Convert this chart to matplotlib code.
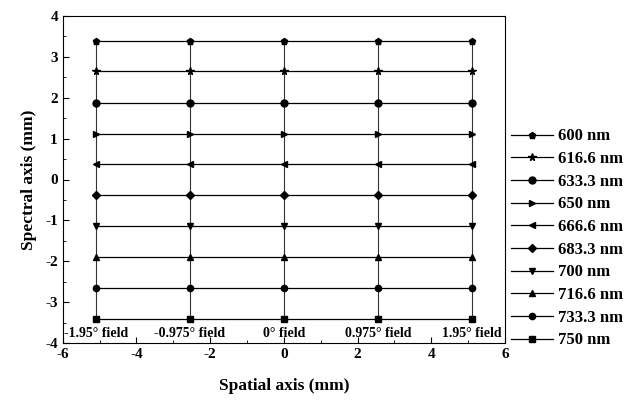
import numpy as np
import matplotlib.pyplot as plt

plt.rcParams['font.family'] = ['Liberation Serif', 'DejaVu Serif']
plt.rcParams['font.weight'] = 'bold'
plt.rcParams['axes.unicode_minus'] = False

field_x = [-5.1, -2.55, 0, 2.55, 5.1]
field_labels = ['-1.95° field', '-0.975° field', '0° field', '0.975° field', '1.95° field']
wavelengths = ['600 nm', '616.6 nm', '633.3 nm', '650 nm', '666.6 nm',
               '683.3 nm', '700 nm', '716.6 nm', '733.3 nm', '750 nm']
spectral_y = [3.40, 2.65, 1.88, 1.12, 0.37, -0.39, -1.14, -1.90, -2.66, -3.42]
markers = ['p', '*', 'o', '>', '<', 'D', 'v', '^', 'o', 's']
msizes = [5, 5.5, 5, 5, 5, 4.5, 5, 5, 4.5, 4.5]

fig = plt.figure(figsize=(6.28, 4), dpi=100)
ax = fig.add_axes([0.100, 0.1425, 0.704, 0.8175])

# vertical lines joining one field
for fx in field_x:
    ax.plot([fx] * len(spectral_y), spectral_y, color='#333333', lw=0.8, zorder=1)

for name, yv, m, ms in zip(wavelengths, spectral_y, markers, msizes):
    ax.plot(field_x, [yv] * len(field_x), color='black', lw=0.9, marker=m,
            markersize=ms, label=name, zorder=2)

for fx, lab in zip(field_x, field_labels):
    ax.text(fx, -3.76, lab, ha='center', va='center', fontsize=10, fontweight='bold')

ax.set_xlim(-6, 6)
ax.set_ylim(-4, 4)
ax.set_xticks([-6, -4, -2, 0, 2, 4, 6])
ax.set_yticks(range(-4, 5))
ax.set_xticks(np.arange(-5, 6, 2), minor=True)
ax.set_yticks(np.arange(-3.5, 4, 1), minor=True)
ax.tick_params(direction='in', which='both', labelsize=11)
ax.tick_params(which='major', length=4)
ax.tick_params(which='minor', length=2)
for t in ax.get_xticklabels() + ax.get_yticklabels():
    t.set_fontweight('bold')

ax.set_xlabel('Spatial axis (mm)', fontsize=12.5, fontweight='bold', labelpad=12)
ax.set_ylabel('Spectral axis (mm)', fontsize=12.5, fontweight='bold', labelpad=6)

leg = ax.legend(loc='center left', bbox_to_anchor=(0.98, 0.32), frameon=False,
                fontsize=12, handlelength=2.5, labelspacing=0.4, handletextpad=0.3)
for t in leg.get_texts():
    t.set_fontweight('bold')

fig.savefig('out.png', dpi=100)
